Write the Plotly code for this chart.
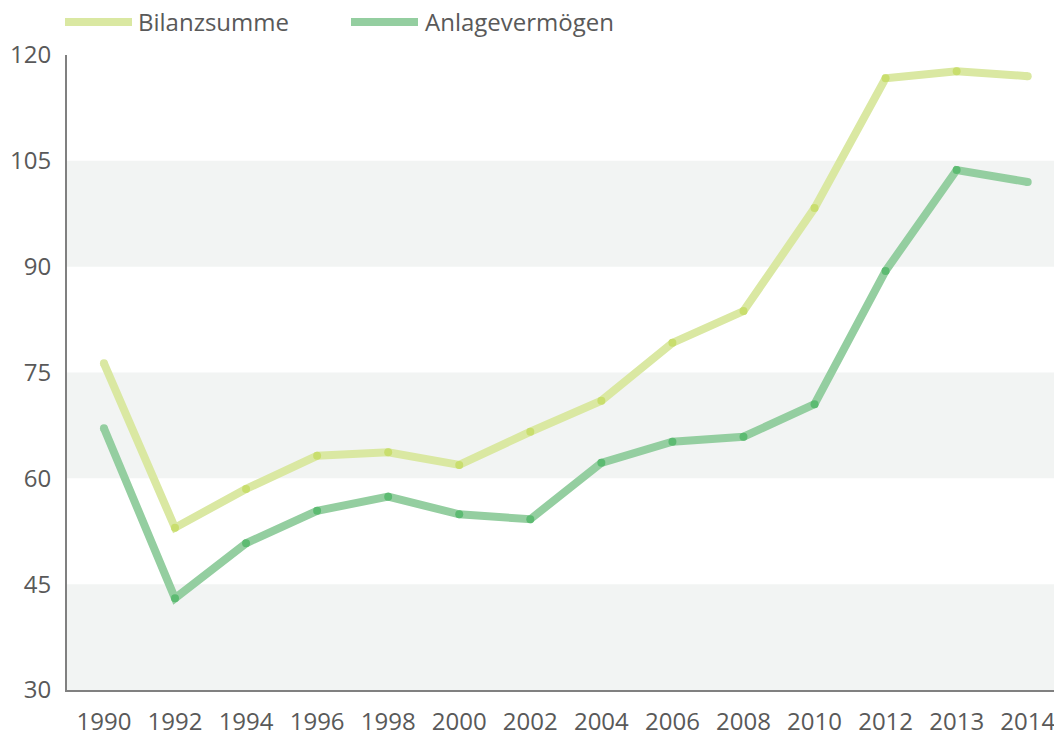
import plotly.graph_objects as go

years = ["1990", "1992", "1994", "1996", "1998", "2000", "2002", "2004",
         "2006", "2008", "2010", "2012", "2013", "2014"]
bilanzsumme = [76.3, 53.0, 58.5, 63.2, 63.7, 61.9, 66.6, 71.0, 79.2, 83.7, 98.3, 116.7, 117.7, 117.0]
anlagevermoegen = [67.1, 43.0, 50.8, 55.4, 57.4, 54.9, 54.2, 62.2, 65.2, 65.9, 70.5, 89.4, 103.7, 102.0]
y_ticks = [30, 45, 60, 75, 90, 105, 120]
series_names = ["Bilanzsumme", "Anlagevermögen"]

line_colors = ["#dae8a2", "#94cea0"]
dot_colors = ["#c9de6e", "#5dbb72"]
FONT = "Open Sans"
TXT = "#595959"
FS = 24

fig = go.Figure()
for name, vals, lc, dc in zip(series_names, [bilanzsumme, anlagevermoegen], line_colors, dot_colors):
    n = len(vals)
    mcolors = [lc] + [dc] * (n - 2) + [lc]
    fig.add_trace(go.Scatter(
        x=years, y=vals, name=name, mode="lines+markers",
        line=dict(color=lc, width=8),
        marker=dict(color=mcolors, size=8, line=dict(width=0)),
        showlegend=False, hoverinfo="x+y+name",
    ))

shapes = []
for lo in [30, 60, 90]:
    shapes.append(dict(type="rect", xref="paper", yref="y", x0=0, x1=1, y0=lo, y1=lo + 15,
                       fillcolor="#f2f4f3", line=dict(width=0), layer="below"))

W, H = 1054, 742
L, T, R = 67, 55, 0
B = H - 690
pw, ph = W - L - R, H - T - B


def px(x):
    return (x - L) / pw


def py(y):
    return (H - B - y) / ph


legend_items = [(series_names[0], line_colors[0], 65, 132, 136),
                (series_names[1], line_colors[1], 351, 418, 423)]
annotations = []
for name, col, x0, x1, tx in legend_items:
    shapes.append(dict(type="line", xref="paper", yref="paper", x0=px(x0), x1=px(x1),
                       y0=py(22), y1=py(22), line=dict(color=col, width=8)))
    annotations.append(dict(text=name, xref="paper", yref="paper", x=px(tx), y=py(22),
                            xanchor="left", yanchor="middle", showarrow=False,
                            font=dict(family=FONT, size=FS, color=TXT)))

fig.update_layout(
    width=W, height=H,
    margin=dict(l=L, r=R, t=T, b=B),
    plot_bgcolor="white", paper_bgcolor="white",
    shapes=shapes, annotations=annotations,
    font=dict(family=FONT, size=FS, color=TXT),
    xaxis=dict(type="category", range=[-0.52, 13.37], showgrid=False, zeroline=False,
               showline=True, linecolor="#808080", linewidth=2, ticks="",
               ticklabelstandoff=9, tickfont=dict(family=FONT, size=FS, color=TXT)),
    yaxis=dict(range=[30, 120], tickvals=y_ticks, showgrid=False, zeroline=False,
               showline=True, linecolor="#808080", linewidth=2, ticks="",
               ticklabelstandoff=9, tickfont=dict(family=FONT, size=FS, color=TXT)),
)
fig.write_html(
    "out.html",
    config={"displayModeBar": False},
    post_script="document.body.style.margin='0';document.body.style.overflow='hidden';",
)
